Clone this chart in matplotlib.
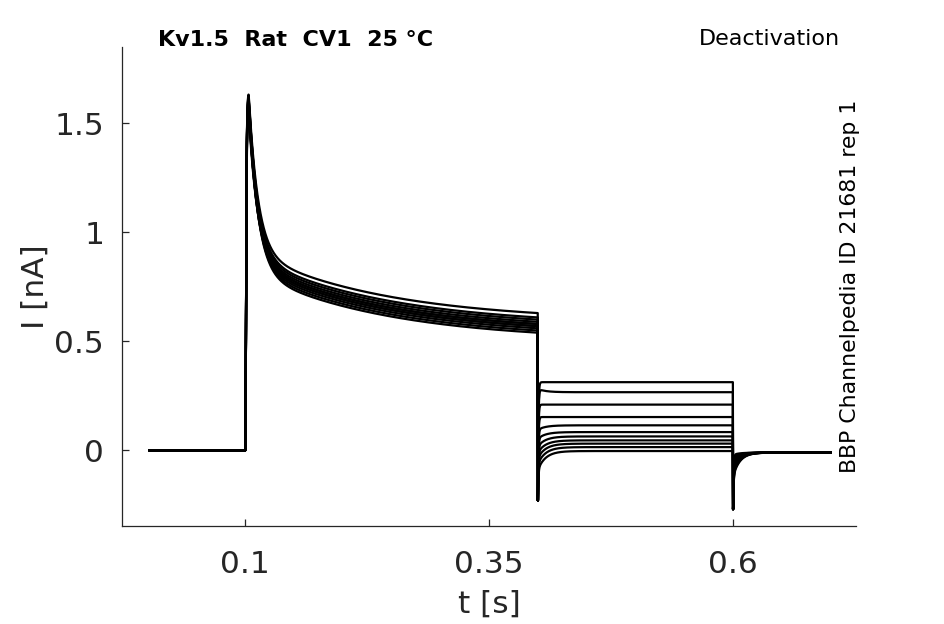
import numpy as np
import matplotlib
matplotlib.use("Agg")
import matplotlib.pyplot as plt

# ---- data ----
# per-sweep peak current after the step to the depolarised potential [nA]
peak_values = [1.64, 1.62, 1.63, 1.60, 1.61, 1.58, 1.62, 1.59, 1.57, 1.60, 1.55]
# current just before the tail step at 0.4 s [nA]
plateau_values = [0.63, 0.60, 0.58, 0.57, 0.59, 0.56, 0.61, 0.55, 0.58, 0.54, 0.57]
# steady tail currents between 0.4 s and 0.6 s [nA]
tail_levels = [0.313, 0.267, 0.210, 0.153, 0.115, 0.084, 0.064, 0.046, 0.031, 0.015, -0.003]
# initial relaxing offset of each tail [nA]
tail_offsets = [0.0, 0.015, 0.0, 0.0, -0.02, -0.03, -0.045, -0.055, -0.065, -0.075, -0.085]
# deactivation dip after returning to holding at 0.6 s [nA]
post_offsets = [-0.11, -0.10, -0.09, -0.08, -0.07, -0.06, -0.05, -0.04, -0.03, -0.02, -0.01]

t_start, t_on, t_tail, t_off, t_end = 0.002, 0.1, 0.4, 0.6, 0.7
t_peak = 0.1035
tau_act, tau_fast, tau_slow = 0.0005, 0.0095, 0.14
slow_amp = 0.32
tau_tail, tau_post, tau_cap = 0.008, 0.007, 0.0005
cap_tail, cap_off = -0.23, -0.27
post_level = -0.01

xticks = [0.1, 0.35, 0.6]
xticklabels = ["0.1", "0.35", "0.6"]
yticks = [0, 0.5, 1, 1.5]
yticklabels = ["0", "0.5", "1", "1.5"]

title_left = "Kv1.5  Rat  CV1  25 °C"
title_right = "Deactivation"
side_text = "BBP Channelpedia ID 21681 rep 1"

# ---- build sweeps ----
t = np.arange(t_start, t_end + 1e-9, 0.0002)

def sweep(P, p, lvl, toff, poff):
    I = np.zeros_like(t)
    ss = p - slow_amp * np.exp(-(t_tail - t_peak) / tau_slow)
    a1 = P - ss - slow_amp
    m1 = (t >= t_on) & (t < t_tail)
    tt = t[m1]
    act = (1 - np.exp(-(tt - t_on) / tau_act)) ** 4
    d = np.clip(tt - t_peak, 0, None)
    I[m1] = act * (ss + a1 * np.exp(-d / tau_fast) + slow_amp * np.exp(-d / tau_slow))
    m2 = (t >= t_tail) & (t < t_off)
    tt = t[m2] - t_tail
    base = lvl + toff * np.exp(-tt / tau_tail)
    I[m2] = base + (cap_tail - base[0]) * np.exp(-tt / tau_cap)
    m3 = t >= t_off
    tt = t[m3] - t_off
    base = post_level + poff * np.exp(-tt / tau_post)
    I[m3] = base + (cap_off - base[0]) * np.exp(-tt / tau_cap)
    return I

# ---- figure ----
fig = plt.figure(figsize=(9.45, 6.24), dpi=100)
ax = fig.add_axes([122 / 945, 1 - 526 / 624, (856 - 122) / 945, (526 - 47) / 624])

for P, p, lvl, toff, poff in zip(peak_values, plateau_values, tail_levels, tail_offsets, post_offsets):
    ax.plot(t, sweep(P, p, lvl, toff, poff), color="black", lw=1.6)

ax.set_xlim(-0.0263, 0.726)
ax.set_ylim(-0.347, 1.851)
ax.set_xticks(xticks)
ax.set_xticklabels(xticklabels)
ax.set_yticks(yticks)
ax.set_yticklabels(yticklabels)
gray = "#262626"
ax.tick_params(direction="in", length=5, width=0.9, labelsize=22.5, colors=gray)
ax.tick_params(axis="y", pad=13)
ax.tick_params(axis="x", pad=17)
for s in ["top", "right"]:
    ax.spines[s].set_visible(False)
for s in ["left", "bottom"]:
    ax.spines[s].set_color(gray)
    ax.spines[s].set_linewidth(0.9)
ax.set_xlabel("t [s]", fontsize=22.5, color=gray, labelpad=8)
ax.set_ylabel("I [nA]", fontsize=22.5, color=gray, labelpad=3)

fig.text(158 / 945, 1 - 40 / 624, title_left, fontsize=16, fontweight="bold",
         ha="left", va="center", color="black")
fig.text(840 / 945, 1 - 39 / 624, title_right, fontsize=16, ha="right",
         va="center", color="black")
fig.text(850 / 945, 1 - 100 / 624, side_text, fontsize=15.8, rotation=90,
         ha="center", va="top", color="black")

fig.savefig("out.png", dpi=100)
